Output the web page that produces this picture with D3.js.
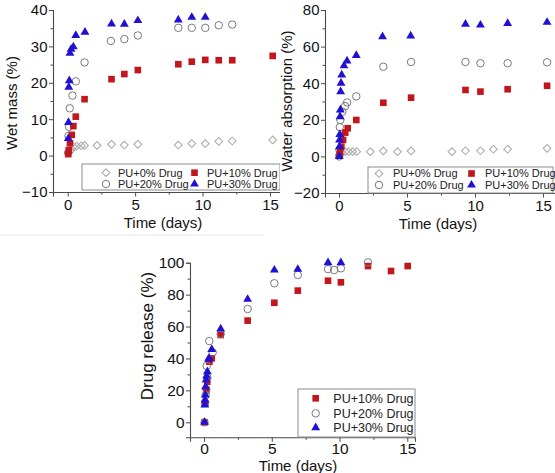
<!DOCTYPE html>
<html><head><meta charset="utf-8">
<script src="https://cdn.jsdelivr.net/npm/d3@7"></script>
<style>
html,body{margin:0;padding:0;background:#fff;}
svg{display:block;font-family:Arial,"Liberation Sans",sans-serif;}
</style></head>
<body><svg id="c" width="555" height="473"></svg>
<script>
// ---------- data ----------
const seriesNames = ["PU+0% Drug","PU+10% Drug","PU+20% Drug","PU+30% Drug"];
const xTicks = [0,5,10,15];
const xMinor = [2.5,7.5,12.5];

// Wet mass panel
const wetT0 = [0.04,0.25,0.42,0.67,1.0,1.25,2.17,3.25,4.2,5.2,8.2,9.2,10.2,11.2,12.2,15.2];
const wetV0 = [0.8,1.5,2.4,2.6,2.7,2.8,2.8,3.1,2.9,3.1,2.9,3.3,3.3,3.9,4.0,4.3];
const wetT10 = [0.04,0.08,0.17,0.3,0.42,0.6,1.25,3.25,4.2,5.2,8.2,9.2,10.2,11.2,12.2,15.2];
const wetV10 = [0.4,1.5,3.4,5.7,8.1,10.7,15.5,21.0,22.4,23.5,25.1,25.8,26.3,26.2,26.2,27.4];
const wetT20 = [0.04,0.06,0.1,0.15,0.35,0.6,1.25,3.2,4.2,5.2,8.2,9.2,10.2,11.2,12.2];
const wetV20 = [0.8,5.4,7.9,13.0,16.5,20.4,25.6,31.5,32.0,33.0,35.1,35.1,35.1,35.8,36.0];
const wetT30 = [0.04,0.06,0.08,0.12,0.17,0.25,0.42,0.6,1.28,3.25,4.2,5.2,8.2,9.2,10.2];
const wetV30 = [4.7,9.1,18.8,20.6,28.1,29.2,29.9,33.0,33.9,36.2,36.1,37.1,37.3,38.0,38.0];
const wetYTicks = [-10,0,10,20,30,40];
const wetYMinor = [-5,5,15,25,35];

// Water absorption panel
const watT0 = [0.04,0.2,0.45,0.7,1.0,1.3,2.3,3.26,4.3,5.3,8.3,9.3,10.4,11.35,12.4,15.3];
const watV0 = [1.0,2.0,2.6,2.6,2.6,2.6,2.6,3.0,2.6,3.0,2.6,3.1,3.1,3.9,3.9,4.4];
const watT10 = [0.04,0.08,0.17,0.3,0.46,0.64,1.27,3.26,5.3,9.3,10.4,12.4,15.3];
const watV10 = [0.8,2.6,5.3,9.0,13.0,15.4,19.9,29.3,32.1,36.3,35.4,36.7,38.6];
const watT20 = [0.02,0.04,0.06,0.1,0.25,0.45,0.6,1.27,3.26,5.3,9.3,10.4,12.4,15.3];
const watV20 = [0.0,3.5,16.0,19.9,24.4,27.5,29.5,32.8,49.0,51.6,51.6,50.9,50.9,51.4];
const watT30 = [0.02,0.03,0.04,0.06,0.08,0.1,0.12,0.15,0.2,0.37,0.59,1.27,3.2,5.27,9.3,10.4,12.4,15.3];
const watV30 = [0.0,5.3,9.0,12.0,21.7,25.4,35.4,40.0,44.5,49.5,52.2,55.2,65.4,65.8,72.3,71.8,72.7,73.3];
const watYTicks = [-20,0,20,40,60,80];
const watYMinor = [-10,10,30,50,70];

// Drug release panel
const relT10 = [0.04,0.08,0.17,0.24,0.4,0.57,1.23,3.22,5.19,6.92,9.15,10.1,12.1,13.8,15.03];
const relV10 = [0.0,12.0,20.0,25.4,38.0,40.1,54.7,63.7,74.9,82.5,88.7,87.7,97.9,94.8,97.9];
const relT20 = [0.04,0.08,0.12,0.17,0.2,0.25,0.39,0.64,1.23,3.22,5.19,6.92,9.15,9.6,10.1,12.1];
const relV20 = [0.0,12.0,17.0,20.7,35.3,28.0,50.9,43.8,55.3,71.0,87.1,92.3,96.0,95.4,96.5,100.2];
const relT30 = [0.04,0.06,0.08,0.1,0.12,0.15,0.2,0.25,0.33,0.37,0.57,1.23,3.22,5.19,6.92,9.15,10.1];
const relV30 = [0.0,10.8,14.0,17.1,22.3,26.5,29.0,31.7,39.5,40.1,45.7,58.5,77.1,95.4,95.9,100.0,100.0];
const relYTicks = [0,20,40,60,80,100];
const relYMinor = [10,30,50,70,90];

// ---------- drawing ----------
const svg = d3.select("#c");
const COL = {
  d: {stroke:"#a8a8a8", fill:"none"},
  s: {stroke:"none", fill:"#c3161c"},
  c: {stroke:"#7a7a7a", fill:"none"},
  t: {stroke:"none", fill:"#2010d4"}
};
function sym(kind){
  if(kind==="d") return d3.symbol().type(d3.symbolSquare).size(30)();
  if(kind==="s") return d3.symbol().type(d3.symbolSquare).size(44)();
  if(kind==="c") return d3.symbol().type(d3.symbolCircle).size(44)();
  return d3.symbol().type(d3.symbolTriangle).size(34)();
}
function drawMark(g, kind, x, y){
  return g.append("path").attr("d", sym(kind))
    .attr("transform", `translate(${x},${y})` + (kind==="d" ? " rotate(45)" : ""))
    .attr("fill", COL[kind].fill).attr("stroke", COL[kind].stroke)
    .attr("stroke-width", 1);
}

svg.append("line").attr("x1",0).attr("x2",264).attr("y1",235).attr("y2",235)
  .attr("stroke","#e6e6e6").attr("stroke-width",1);

function panel(cfg){
  const g = svg.append("g");
  const clipId = "clip"+cfg.id;
  svg.append("clipPath").attr("id",clipId).append("rect")
    .attr("x",0).attr("y",0).attr("width",cfg.clipRight).attr("height",473);
  const root = g.attr("clip-path",`url(#${clipId})`);
  const xb = d3.scaleLinear().domain([0,15]).range([cfg.x0,cfg.x15]);
  const x = d3.scaleLinear().domain([xb.invert(cfg.left), xb.invert(cfg.right)]).range([cfg.left,cfg.right]);
  const y = d3.scaleLinear().domain(cfg.yDomain).range([cfg.bottom,cfg.top]);

  root.append("g").attr("transform",`translate(0,${cfg.bottom})`)
    .call(d3.axisBottom(x).tickValues(xTicks).tickSize(4.5).tickPadding(cfg.xPad).tickFormat(d3.format("d")));
  root.append("g").attr("transform",`translate(0,${cfg.bottom})`)
    .call(d3.axisBottom(x).tickValues(xMinor).tickSize(2.5).tickFormat(""))
    .call(a=>a.select(".domain").remove());
  root.append("g").attr("transform",`translate(${cfg.left},0)`)
    .call(d3.axisLeft(y).tickValues(cfg.yTicks).tickSize(4).tickPadding(1.5).tickFormat(d3.format("d")));
  root.append("g").attr("transform",`translate(${cfg.left},0)`)
    .call(d3.axisLeft(y).tickValues(cfg.yMinor).tickSize(2.5).tickFormat(""))
    .call(a=>a.select(".domain").remove());
  root.selectAll(".domain").attr("stroke","#4a4a4a").attr("stroke-width",1.1);
  root.selectAll(".tick line").attr("stroke","#4a4a4a");
  root.selectAll(".tick text").attr("fill","#111").style("font-size",cfg.tickFont+"px")
    .style("font-family","Arial, 'Liberation Sans', sans-serif");

  root.append("text").attr("x",cfg.xLabelX).attr("y",cfg.xLabelY).attr("text-anchor","middle")
    .style("font-size",cfg.labelFont+"px").attr("fill","#111").text("Time (days)");
  root.append("text").attr("transform",`translate(${cfg.yLabelX},${cfg.yLabelY}) rotate(-90)`)
    .attr("text-anchor","middle").style("font-size",cfg.yLabelFont+"px").attr("fill","#111").text(cfg.yLabel);

  const pts = root.append("g");
  cfg.series.forEach(s=>{
    s.t.forEach((t,i)=> drawMark(pts, s.kind, x(t), y(s.v[i])));
  });

  const L = cfg.legend;
  const lg = root.append("g");
  lg.append("rect").attr("x",L.x).attr("y",L.y).attr("width",L.w).attr("height",L.h)
    .attr("fill","#fff").attr("stroke","#8c8c8c").attr("stroke-width",1);
  L.items.forEach(it=>{
    drawMark(lg, it.kind, it.sx, it.sy);
    lg.append("text").attr("x",it.tx).attr("y",it.sy).attr("dy","0.36em")
      .style("font-size",L.font+"px").attr("fill","#222").text(it.label);
  });
}

panel({
  id:1, clipRight:280, left:53, right:281, x0:67.7, x15:270, top:10, bottom:192,
  yDomain:[-10,40], yTicks:wetYTicks, yMinor:wetYMinor, tickFont:15, labelFont:15, yLabelFont:15, xPad:3,
  xLabelX:163, xLabelY:228, yLabelX:17, yLabelY:103, yLabel:"Wet mass (%)",
  series:[
    {kind:"d", t:wetT0, v:wetV0},
    {kind:"c", t:wetT20, v:wetV20},
    {kind:"s", t:wetT10, v:wetV10},
    {kind:"t", t:wetT30, v:wetV30}
  ],
  legend:{x:82, y:164, w:198, h:26, font:11, items:[
    {kind:"d", sx:106, sy:172.7, tx:118, label:seriesNames[0]},
    {kind:"s", sx:194.5, sy:172.7, tx:207, label:seriesNames[1]},
    {kind:"c", sx:106, sy:184, tx:118, label:seriesNames[2]},
    {kind:"t", sx:194.5, sy:184, tx:207, label:seriesNames[3]}
  ]}
});

panel({
  id:2, clipRight:555, left:325, right:556, x0:339, x15:543, top:10, bottom:193,
  yDomain:[-20,80], yTicks:watYTicks, yMinor:watYMinor, tickFont:15, labelFont:15, yLabelFont:15, xPad:3,
  xLabelX:438, xLabelY:229, yLabelX:292, yLabelY:101, yLabel:"Water absorption (%)",
  series:[
    {kind:"d", t:watT0, v:watV0},
    {kind:"c", t:watT20, v:watV20},
    {kind:"s", t:watT10, v:watV10},
    {kind:"t", t:watT30, v:watV30}
  ],
  legend:{x:368, y:167, w:185, h:26, font:11, items:[
    {kind:"d", sx:379, sy:173.5, tx:393, label:seriesNames[0]},
    {kind:"s", sx:471.5, sy:173.5, tx:485, label:seriesNames[1]},
    {kind:"c", sx:379, sy:185, tx:393, label:seriesNames[2]},
    {kind:"t", sx:471.5, sy:185, tx:485, label:seriesNames[3]}
  ]}
});

panel({
  id:3, clipRight:555, left:190, right:415, x0:204, x15:407.3, top:262.7, bottom:437.3,
  yDomain:[-9.4,100], yTicks:relYTicks, yMinor:relYMinor, tickFont:15.5, labelFont:15, yLabelFont:17, xPad:1.5,
  xLabelX:298, xLabelY:471, yLabelX:153, yLabelY:336, yLabel:"Drug release (%)",
  series:[
    {kind:"s", t:relT10, v:relV10},
    {kind:"c", t:relT20, v:relV20},
    {kind:"t", t:relT30, v:relV30}
  ],
  legend:{x:298, y:389, w:117, h:48, font:12.5, items:[
    {kind:"s", sx:315.7, sy:398.3, tx:333.3, label:seriesNames[1]},
    {kind:"c", sx:315.7, sy:413.3, tx:333.3, label:seriesNames[2]},
    {kind:"t", sx:315.7, sy:427.7, tx:333.3, label:seriesNames[3]}
  ]}
});
</script></body></html>
